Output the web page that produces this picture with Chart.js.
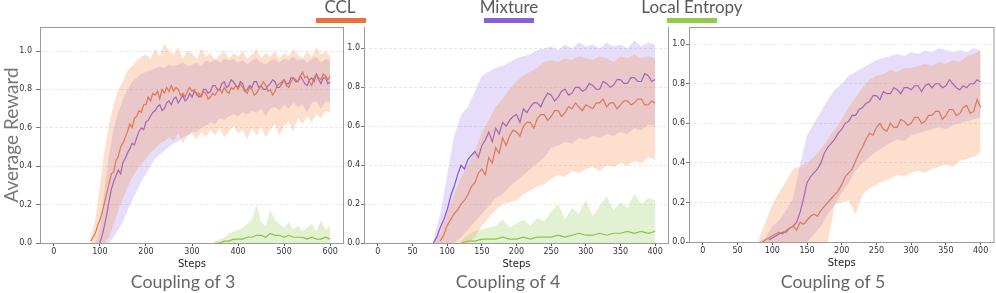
<!DOCTYPE html>
<html>
<head>
<meta charset="utf-8">
<script src="https://cdn.jsdelivr.net/npm/chart.js@4"></script>
<style>
  body{margin:0;background:#fff;width:996px;height:293px;position:relative;overflow:hidden;font-family:Lato,sans-serif}
  canvas{position:absolute;top:0}
  .lbl{position:absolute;top:-3px;color:#595959;font-size:17px;line-height:20px;white-space:nowrap;transform:translateX(-50%)}
  .bar{position:absolute;top:18px;height:5px;width:50px}
  .cap{position:absolute;top:270px;color:#666;font-size:17.8px;line-height:22px;white-space:nowrap;transform:translateX(-50%)}
</style>
</head>
<body>
<canvas id="c3" width="350" height="293" style="left:0"></canvas>
<canvas id="c4" width="332" height="293" style="left:340px"></canvas>
<canvas id="c5" width="328" height="293" style="left:668px"></canvas>

<div class="lbl" style="left:340px">CCL</div>
<div class="bar" style="left:316px;background:#e8733a"></div>
<div class="lbl" style="left:509px">Mixture</div>
<div class="bar" style="left:484px;background:#8a5fd8"></div>
<div class="lbl" style="left:692px">Local Entropy</div>
<div class="bar" style="left:667px;background:#94c94f"></div>

<div class="cap" style="left:183px">Coupling of 3</div>
<div class="cap" style="left:508px">Coupling of 4</div>
<div class="cap" style="left:833px">Coupling of 5</div>

<script>
// ---------------- DATA ----------------
const yTicks = [0, 0.2, 0.4, 0.6, 0.8, 1.0];
const xTicks3 = [0, 100, 200, 300, 400, 500, 600];
const xTicks45 = [0, 50, 100, 150, 200, 250, 300, 350, 400];

// steps for the mean curves (every 5 steps)
const lineSteps3 = [80,85,90,95,100,105,110,115,120,125,130,135,140,145,150,155,160,165,170,175,
  180,185,190,195,200,205,210,215,220,225,230,235,240,245,250,255,260,265,270,275,
  280,285,290,295,300,305,310,315,320,325,330,335,340,345,350,355,360,365,370,375,
  380,385,390,395,400,405,410,415,420,425,430,435,440,445,450,455,460,465,470,475,
  480,485,490,495,500,505,510,515,520,525,530,535,540,545,550,555,560,565,570,575,
  580,585,590,595,600];
const lineSteps45 = [80,85,90,95,100,105,110,115,120,125,130,135,140,145,150,155,160,165,170,175,
  180,185,190,195,200,205,210,215,220,225,230,235,240,245,250,255,260,265,270,275,
  280,285,290,295,300,305,310,315,320,325,330,335,340,345,350,355,360,365,370,375,
  380,385,390,395,400];
// steps for the shaded bands (every 10 steps)
const bandSteps3 = [80,90,100,110,120,130,140,150,160,170,180,190,200,210,220,230,240,250,260,270,
  280,290,300,310,320,330,340,350,360,370,380,390,400,410,420,430,440,450,460,470,
  480,490,500,510,520,530,540,550,560,570,580,590,600];
const bandSteps45 = [80,90,100,110,120,130,140,150,160,170,180,190,200,210,220,230,240,250,260,270,
  280,290,300,310,320,330,340,350,360,370,380,390,400];

// coupling of 3
const ccl3 = [0.01,0.03,0.05,0.09,0.12,0.16,0.21,0.26,0.31,0.36,
  0.37,0.43,0.45,0.50,0.52,0.55,0.58,0.62,0.60,0.65,
  0.66,0.69,0.68,0.72,0.72,0.76,0.74,0.78,0.77,0.79,
  0.75,0.80,0.78,0.81,0.79,0.82,0.79,0.81,0.80,0.77,
  0.78,0.76,0.79,0.81,0.79,0.80,0.77,0.78,0.76,0.79,
  0.78,0.75,0.76,0.78,0.77,0.79,0.80,0.78,0.81,0.79,
  0.78,0.81,0.80,0.82,0.80,0.83,0.81,0.79,0.78,0.81,
  0.80,0.77,0.78,0.80,0.82,0.84,0.82,0.79,0.80,0.77,
  0.79,0.82,0.83,0.84,0.85,0.82,0.81,0.84,0.86,0.85,
  0.84,0.87,0.89,0.86,0.87,0.84,0.82,0.86,0.88,0.86,
  0.85,0.88,0.87,0.85,0.87];
const mix3 = [null,null,null,null,0.00,0.04,0.09,0.15,0.22,0.28,
  0.32,0.35,0.38,0.36,0.42,0.44,0.47,0.49,0.52,0.51,
  0.55,0.58,0.60,0.59,0.63,0.64,0.66,0.68,0.69,0.71,
  0.72,0.69,0.70,0.73,0.74,0.72,0.75,0.76,0.73,0.75,
  0.77,0.74,0.75,0.78,0.76,0.79,0.78,0.76,0.77,0.80,
  0.80,0.78,0.79,0.82,0.82,0.80,0.80,0.83,0.84,0.81,
  0.82,0.85,0.84,0.82,0.81,0.84,0.83,0.79,0.80,0.82,
  0.81,0.84,0.84,0.81,0.82,0.80,0.80,0.82,0.83,0.85,
  0.84,0.81,0.81,0.83,0.85,0.83,0.83,0.86,0.86,0.84,
  0.84,0.87,0.85,0.83,0.82,0.85,0.86,0.84,0.88,0.85,
  0.83,0.86,0.86,0.83,0.84];
const cclLo3 = [0,0,0,0,0.03,0.10,0.17,0.23,0.29,0.34,
  0.38,0.41,0.44,0.47,0.49,0.52,0.53,0.55,0.53,0.57,
  0.52,0.56,0.57,0.54,0.58,0.55,0.59,0.56,0.60,0.55,
  0.58,0.61,0.57,0.59,0.54,0.60,0.56,0.61,0.55,0.59,
  0.62,0.56,0.61,0.63,0.58,0.65,0.62,0.66,0.63,0.67,
  0.65,0.69,0.68];
const cclHi3 = [0.02,0.12,0.30,0.48,0.62,0.72,0.80,0.84,0.90,0.92,
  0.95,0.97,0.98,0.96,1.01,0.97,1.04,1.00,0.98,1.02,
  0.96,1.00,0.99,0.96,1.01,0.97,0.99,0.95,0.98,1.00,
  0.96,0.99,0.97,1.00,0.96,0.98,1.01,0.96,0.99,0.97,
  1.00,0.96,0.99,0.97,1.01,0.98,0.96,1.00,0.97,1.02,
  0.98,1.00,0.97];
const mixLo3 = [0,0,0,0,0,0.03,0.07,0.11,0.17,0.22,
  0.27,0.32,0.36,0.40,0.44,0.46,0.48,0.50,0.52,0.53,
  0.55,0.56,0.58,0.58,0.60,0.61,0.63,0.62,0.65,0.64,
  0.66,0.67,0.66,0.68,0.67,0.69,0.68,0.70,0.66,0.70,
  0.71,0.69,0.72,0.70,0.73,0.71,0.72,0.68,0.73,0.74,
  0.70,0.74,0.73];
const mixHi3 = [0,0,0.08,0.28,0.46,0.60,0.68,0.75,0.80,0.84,
  0.86,0.88,0.89,0.90,0.91,0.92,0.91,0.93,0.92,0.93,
  0.94,0.92,0.93,0.94,0.92,0.95,0.94,0.96,0.94,0.96,
  0.95,0.96,0.94,0.95,0.93,0.95,0.96,0.94,0.93,0.95,
  0.96,0.94,0.96,0.95,0.97,0.95,0.96,0.94,0.96,0.97,
  0.94,0.96,0.95];
const leSteps3 = [350,360,370,380,390,400,410,420,430,440,450,460,470,480,490,500,
  510,520,530,540,550,560,570,580,590,600];
const le3 = [0.00,0.00,0.01,0.01,0.02,0.02,0.02,0.03,0.03,0.04,0.04,0.03,0.05,0.04,0.04,0.03,
  0.04,0.03,0.03,0.03,0.02,0.03,0.02,0.02,0.03,0.02];
const leHi3 = [0.01,0.02,0.03,0.05,0.06,0.07,0.08,0.10,0.12,0.20,0.11,0.09,0.17,0.12,0.10,0.08,
  0.11,0.07,0.09,0.06,0.08,0.10,0.06,0.12,0.07,0.09];

// coupling of 4
const ccl4 = [null,null,0.01,0.04,0.09,0.12,0.15,0.17,0.20,0.22,
  0.25,0.29,0.31,0.36,0.38,0.35,0.44,0.41,0.49,0.46,
  0.54,0.50,0.55,0.58,0.57,0.55,0.60,0.62,0.62,0.59,
  0.64,0.66,0.66,0.63,0.65,0.68,0.68,0.65,0.67,0.70,
  0.69,0.72,0.70,0.68,0.71,0.70,0.69,0.72,0.72,0.74,
  0.70,0.72,0.72,0.69,0.71,0.73,0.73,0.71,0.72,0.74,
  0.74,0.71,0.71,0.73,0.72];
const mix4 = [0.00,0.03,0.08,0.12,0.17,0.24,0.29,0.35,0.40,0.38,
  0.43,0.45,0.47,0.44,0.50,0.53,0.57,0.52,0.59,0.56,
  0.62,0.60,0.63,0.65,0.66,0.62,0.69,0.67,0.70,0.72,
  0.72,0.70,0.74,0.77,0.76,0.73,0.75,0.78,0.79,0.76,
  0.77,0.80,0.80,0.78,0.79,0.82,0.81,0.79,0.79,0.83,
  0.82,0.80,0.81,0.84,0.84,0.82,0.82,0.85,0.85,0.83,
  0.83,0.87,0.86,0.83,0.84];
const cclLo4 = [0,0,0,0,0,0,0.03,0.09,0.13,0.17,
  0.20,0.21,0.22,0.25,0.27,0.29,0.30,0.33,0.35,0.34,
  0.37,0.36,0.38,0.39,0.37,0.40,0.39,0.41,0.40,0.42,
  0.41,0.44,0.43];
const cclHi4 = [0,0.05,0.16,0.25,0.34,0.40,0.47,0.57,0.63,0.70,
  0.74,0.79,0.83,0.86,0.88,0.90,0.93,0.94,0.93,0.95,
  0.94,0.96,0.95,0.94,0.96,0.95,0.93,0.96,0.95,0.97,
  0.95,0.96,0.95];
const mixLo4 = [0,0,0,0,0.03,0.07,0.11,0.15,0.19,0.23,
  0.25,0.29,0.32,0.35,0.38,0.41,0.44,0.49,0.50,0.52,
  0.51,0.54,0.53,0.55,0.54,0.56,0.55,0.57,0.56,0.59,
  0.58,0.61,0.60];
const mixHi4 = [0.01,0.15,0.35,0.55,0.66,0.70,0.78,0.86,0.88,0.90,
  0.91,0.93,0.95,0.96,0.97,0.99,1.00,1.01,0.99,1.02,
  1.00,1.03,1.01,1.02,1.00,1.03,1.01,1.02,1.00,1.04,
  1.01,1.03,1.02];
const leSteps4 = [120,130,140,150,160,170,180,190,200,210,220,230,240,250,260,270,
  280,290,300,310,320,330,340,350,360,370,380,390,400];
const le4 = [0.00,0.01,0.01,0.02,0.02,0.02,0.03,0.02,0.02,0.03,0.02,0.03,0.03,0.03,0.04,0.03,
  0.04,0.05,0.04,0.04,0.05,0.04,0.05,0.05,0.06,0.05,0.06,0.05,0.06];
const leHi4 = [0.01,0.04,0.06,0.07,0.08,0.09,0.12,0.08,0.10,0.12,0.09,0.13,0.11,0.16,0.20,0.12,
  0.18,0.15,0.22,0.14,0.19,0.24,0.17,0.21,0.18,0.25,0.20,0.23,0.22];

// coupling of 5
const ccl5 = [null,0.00,0.01,0.02,0.03,0.04,0.05,0.04,0.06,0.07,
  0.08,0.06,0.10,0.09,0.11,0.13,0.14,0.13,0.16,0.18,
  0.20,0.22,0.24,0.26,0.29,0.33,0.35,0.37,0.41,0.45,
  0.48,0.52,0.55,0.54,0.58,0.60,0.57,0.56,0.60,0.58,
  0.58,0.62,0.61,0.59,0.60,0.63,0.63,0.60,0.61,0.64,
  0.64,0.66,0.66,0.62,0.64,0.67,0.67,0.64,0.65,0.68,
  0.69,0.65,0.66,0.72,0.68];
const mix5 = [null,null,null,0.01,0.02,0.03,0.04,0.05,0.05,0.07,
  0.08,0.10,0.15,0.22,0.30,0.33,0.35,0.37,0.40,0.45,
  0.48,0.50,0.52,0.55,0.57,0.60,0.61,0.64,0.64,0.67,
  0.68,0.70,0.71,0.74,0.74,0.72,0.76,0.75,0.75,0.78,
  0.77,0.75,0.78,0.78,0.77,0.79,0.79,0.76,0.79,0.80,
  0.78,0.80,0.80,0.78,0.79,0.82,0.80,0.78,0.77,0.79,
  0.78,0.80,0.80,0.82,0.81];
const cclLo5 = [0,0,0,0,0,0,0,0,0,0,
  0,0.19,0.20,0.21,0.14,0.24,0.27,0.29,0.31,0.32,
  0.34,0.33,0.35,0.36,0.35,0.37,0.38,0.39,0.38,0.41,
  0.42,0.43,0.45];
const cclHi5 = [0.01,0.10,0.19,0.25,0.31,0.37,0.38,0.40,0.43,0.47,
  0.52,0.57,0.62,0.68,0.73,0.78,0.82,0.84,0.85,0.87,
  0.86,0.88,0.88,0.89,0.90,0.89,0.91,0.90,0.92,0.91,
  0.94,0.95,0.97];
const mixLo5 = [0,0,0,0,0,0,0,0,0.04,0.08,
  0.14,0.19,0.25,0.30,0.36,0.40,0.43,0.46,0.48,0.50,
  0.52,0.51,0.54,0.55,0.56,0.57,0.58,0.57,0.59,0.60,
  0.61,0.62,0.63];
const mixHi5 = [0,0.02,0.08,0.11,0.16,0.22,0.39,0.54,0.60,0.66,
  0.72,0.77,0.80,0.84,0.86,0.88,0.90,0.92,0.93,0.94,
  0.95,0.94,0.96,0.95,0.97,0.96,0.98,0.97,0.96,0.97,
  0.96,0.98,0.97];

// ---------------- STYLE ----------------
const cclColor = '#e86d2d', mixColor = '#7b4fd8', leColor = '#86c13c';
const cclFill = 'rgba(245,150,90,0.30)', mixFill = 'rgba(140,100,230,0.22)', leFill = 'rgba(150,205,90,0.28)';

const pts = (xs, ys) => xs.map((x, i) => ({x: x, y: ys[i]}));

// box around the plot area (only some sides per panel)
const frame = {
  id: 'frame',
  afterDatasetsDraw(chart, args, opts){
    const a = chart.chartArea, ctx = chart.ctx, s = opts.sides || '';
    ctx.save();
    ctx.strokeStyle = '#9a9a9a';
    ctx.lineWidth = 1;
    ctx.beginPath();
    if(s.includes('t')){ ctx.moveTo(a.left, a.top + 0.5); ctx.lineTo(a.right, a.top + 0.5); }
    if(s.includes('b')){ ctx.moveTo(a.left, a.bottom + 0.5); ctx.lineTo(a.right, a.bottom + 0.5); }
    if(s.includes('l')){ ctx.moveTo(a.left + 0.5, a.top); ctx.lineTo(a.left + 0.5, a.bottom); }
    if(s.includes('r')){ ctx.moveTo(a.right - 0.5, a.top); ctx.lineTo(a.right - 0.5, a.bottom); }
    ctx.stroke();
    ctx.restore();
  }
};

function band(xs, lo, hi, color){
  return [
    {data: pts(xs, lo), borderWidth: 0, pointRadius: 0, fill: false, borderColor: 'transparent'},
    {data: pts(xs, hi), borderWidth: 0, pointRadius: 0, fill: '-1', borderColor: 'transparent', backgroundColor: color}
  ];
}
function line(xs, ys, color){
  return {data: pts(xs, ys), borderColor: color, borderWidth: 1.2, pointRadius: 0, fill: false, tension: 0};
}

// ---------------- PANELS ----------------
function panel(id, p){
  const sets = [];
  if(p.le) sets.push({data: pts(p.le.x, p.le.hi), borderWidth: 0, pointRadius: 0, fill: 'origin',
    borderColor: 'transparent', backgroundColor: leFill});
  sets.push(...band(p.bx, p.cclLo, p.cclHi, cclFill));
  sets.push(...band(p.bx, p.mixLo, p.mixHi, mixFill));
  if(p.le) sets.push(line(p.le.x, p.le.y, leColor));
  sets.push(line(p.lx, p.ccl, cclColor));
  sets.push(line(p.lx, p.mix, mixColor));

  new Chart(document.getElementById(id), {
    type: 'line',
    data: {datasets: sets},
    plugins: [frame],
    options: {
      responsive: false,
      animation: false,
      devicePixelRatio: 1,
      layout: {padding: p.pad},
      plugins: {legend: {display: false}, tooltip: {enabled: false}, frame: {sides: p.sides}},
      scales: {
        x: {
          type: 'linear', min: p.xMin, max: p.xMax,
          afterBuildTicks: s => { s.ticks = p.xTicks.map(v => ({value: v})); },
          afterFit: s => { s.height = 30; },
          ticks: {font: {family: 'DejaVu Sans', size: 8}, color: '#333', padding: 1, maxRotation: 0},
          grid: {drawOnChartArea: false, tickLength: 3, tickColor: '#555'},
          border: {display: false},
          title: {display: true, text: 'Steps', color: '#222', font: {family: 'DejaVu Sans', size: 10},
            padding: {top: 0, bottom: 3}}
        },
        y: {
          type: 'linear', min: 0, max: p.yMax,
          afterBuildTicks: s => { s.ticks = yTicks.map(v => ({value: v})); },
          afterFit: s => { s.width = p.yw; },
          ticks: {font: {family: 'DejaVu Sans', size: 8}, color: '#333', padding: p.tp, callback: v => v.toFixed(1)},
          grid: {color: '#e2e2e2', lineWidth: 0.8, tickLength: p.tl, tickColor: '#555'},
          border: {display: false, dash: [3, 2]},
          title: {display: !!p.yTitle, text: p.yTitle || '', color: '#777',
            font: {family: 'Lato', size: 19, lineHeight: 1.26}, padding: 0}
        }
      }
    }
  });
}

window.onload = () => {
  panel('c3', {
    lx: lineSteps3, ccl: ccl3, mix: mix3,
    bx: bandSteps3, cclLo: cclLo3, cclHi: cclHi3, mixLo: mixLo3, mixHi: mixHi3,
    le: {x: leSteps3, y: le3, hi: leHi3},
    xMin: -30, xMax: 630, xTicks: xTicks3, yMax: 1.125,
    pad: {left: 0, top: 27, right: 6, bottom: 20}, yw: 40, tl: 4, tp: 4,
    sides: 'tblr', yTitle: 'Average Reward'
  });
  panel('c4', {
    lx: lineSteps45, ccl: ccl4, mix: mix4,
    bx: bandSteps45, cclLo: cclLo4, cclHi: cclHi4, mixLo: mixLo4, mixHi: mixHi4,
    le: {x: leSteps4, y: le4, hi: leHi4},
    xMin: -20, xMax: 420, xTicks: xTicks45, yMax: 1.11,
    pad: {left: 0, top: 27, right: 3, bottom: 20}, yw: 24, tl: 3, tp: 1,
    sides: 'blr'
  });
  panel('c5', {
    lx: lineSteps45, ccl: ccl5, mix: mix5,
    bx: bandSteps45, cclLo: cclLo5, cclHi: cclHi5, mixLo: mixLo5, mixHi: mixHi5,
    xMin: -20, xMax: 420, xTicks: xTicks45, yMax: 1.087,
    pad: {left: 0, top: 27, right: 1.5, bottom: 21}, yw: 21, tl: 3, tp: 1,
    sides: 'tblr'
  });
};
</script>
</body>
</html>
